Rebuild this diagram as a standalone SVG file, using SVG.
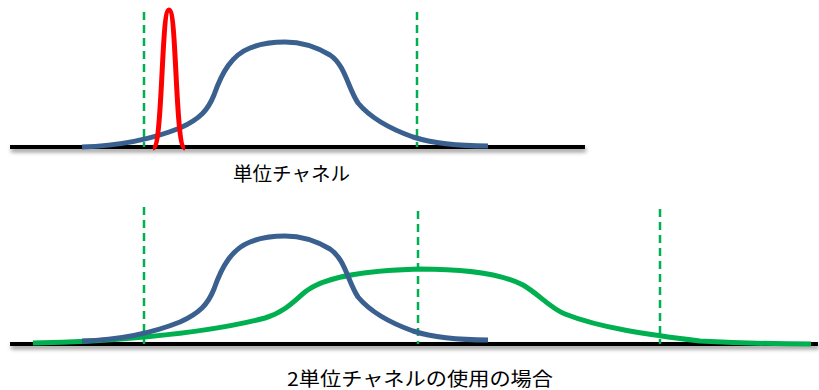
<svg xmlns="http://www.w3.org/2000/svg" width="819" height="390" viewBox="0 0 819 390">
<defs>
<filter id="sh" x="-5%" y="-200%" width="110%" height="600%">
<feGaussianBlur in="SourceAlpha" stdDeviation="2"/>
<feOffset dx="1" dy="3" result="b"/>
<feComponentTransfer><feFuncA type="linear" slope="0.45"/></feComponentTransfer>
<feMerge><feMergeNode/><feMergeNode in="SourceGraphic"/></feMerge>
</filter>
</defs>
<style>
.axis{fill:#000}
.dash{stroke:#00B050;stroke-width:2.5;stroke-dasharray:8 5;fill:none}
.blue{stroke:#3A6090;stroke-width:5;fill:none;stroke-linecap:butt}
.green{stroke:#00B050;stroke-width:5;fill:none}
.red{stroke:#FF0000;stroke-width:5;fill:none}
.lbl{font-family:"Noto Sans CJK JP","Liberation Sans",sans-serif;font-size:19px;fill:#000}
</style>
<rect width="819" height="390" fill="#fff"/>
<g id="top-panel">
<rect class="axis" x="10" y="145" width="575" height="4" filter="url(#sh)"/>
<line class="dash" x1="144" y1="12" x2="144" y2="147"/>
<line class="dash" x1="417" y1="12" x2="417" y2="147"/>
<path id="blue-top" class="blue" d="M82,147 C115,146 150,140 180,128 C200,119 208,110 214,95 C222,72 232,55 250,48 C262,43 272,42 285,42 C300,42 315,46 330,55 C345,65 348,88 358,103 C368,115 385,127 413,137 C435,144 460,146 488,146"/>
<path id="red-spike" class="red" d="M153,148 C163,148 161,10 169,10 C177,10 175,148 185,148"/>
<text class="lbl" x="233" y="181" textLength="117" lengthAdjust="spacingAndGlyphs">単位チャネル</text>
</g>
<g id="bottom-panel">
<rect class="axis" x="10" y="342" width="808" height="4" filter="url(#sh)"/>
<line class="dash" x1="144" y1="207" x2="144" y2="344"/>
<line class="dash" x1="418" y1="211" x2="418" y2="344"/>
<line class="dash" x1="660" y1="209" x2="660" y2="344"/>
<path id="green-curve" class="green" d="M33,343 C100,342 200,335 265,318 C285,312 295,300 305,292 C320,280 350,271 419,269 C460,269 500,273 523,285 C540,295 550,308 565,314 C600,328 650,335 700,341 C740,343 780,344 811,344"/>
<path id="blue-bottom" class="blue" transform="translate(0,194)" d="M82,147 C115,146 150,140 180,128 C200,119 208,110 214,95 C222,72 232,55 250,48 C262,43 272,42 285,42 C300,42 315,46 330,55 C345,65 348,88 358,103 C368,115 385,127 413,137 C435,144 460,146 488,146"/>
<text class="lbl" x="287" y="386" textLength="266" lengthAdjust="spacingAndGlyphs">2単位チャネルの使用の場合</text>
</g>
</svg>
